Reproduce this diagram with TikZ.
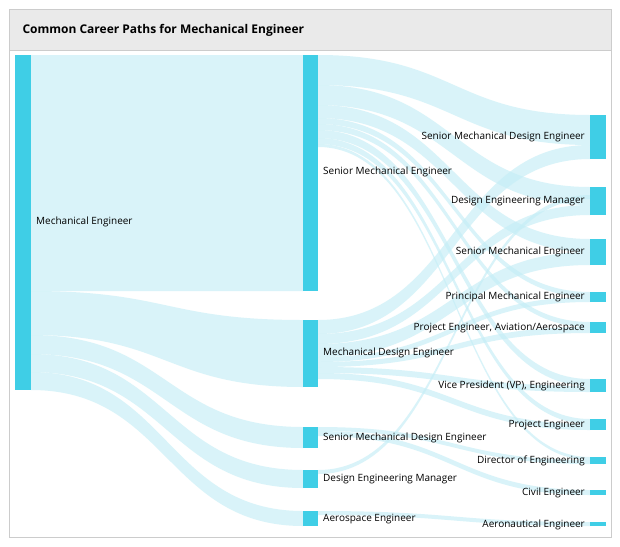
\documentclass[tikz,border=0pt]{standalone}
\usepackage{fontspec}
\setmainfont{Open Sans}
\definecolor{barc}{HTML}{3FCEE6}
\definecolor{flowc}{HTML}{C5EEF6}
\definecolor{titlebg}{HTML}{EAEAEA}
\tikzset{
  bar/.style={fill=barc, draw=none},
  flow/.style={fill=flowc, fill opacity=0.65},
  lbl/.style={font=\fontsize{10}{11}\selectfont, inner sep=0pt}
}
% band between two bars: x1, top1, bot1, x2, top2, bot2
\newcommand{\band}[6]{%
  \fill[flow] (#1,#2) .. controls ({(#1+#4)/2},#2) and ({(#1+#4)/2},#5) .. (#4,#5)
    -- (#4,#6) .. controls ({(#1+#4)/2},#6) and ({(#1+#4)/2},#3) .. (#1,#3) -- cycle;}
\begin{document}
\begin{tikzpicture}[x=1pt, y=-1pt]
\useasboundingbox (0,0) rectangle (620,546);
\fill[white] (0,0) rectangle (620,546);
\draw[black!20, fill=titlebg] (9,9) rectangle (611,50);
\draw[black!20] (9,50) rectangle (611,537);
\node[anchor=west, font=\bfseries\fontsize{12}{13}\selectfont] (title) at (19,30) {Common Career Paths for Mechanical Engineer};

% left to middle
\band{31}{55}{291}{303}{55}{291}
\band{31}{291}{335}{303}{320}{387}
\band{31}{335}{354}{303}{427}{448}
\band{31}{354}{372}{303}{470}{488}
\band{31}{372}{390}{303}{511}{526}
% senior mechanical engineer to right
\band{318}{55}{85}{590}{115}{145}
\band{318}{85}{105}{590}{187}{205}
\band{318}{105}{118}{590}{239}{252}
\band{318}{118}{124}{590}{292}{297}
\band{318}{124}{130}{590}{322}{327}
\band{318}{130}{138}{590}{379}{386}
\band{318}{138}{144}{590}{419}{424}
\band{318}{144}{147}{590}{457}{460}
% mechanical design engineer to right
\band{318}{320}{334}{590}{145}{159}
\band{318}{334}{344}{590}{205}{215}
\band{318}{344}{357}{590}{252}{265}
\band{318}{357}{362}{590}{297}{302}
\band{318}{362}{367}{590}{327}{333}
\band{318}{367}{373}{590}{386}{392}
\band{318}{373}{379}{590}{424}{430}
% smaller middle nodes
\band{318}{427}{431}{590}{460}{464}
\band{318}{431}{436}{590}{490}{495}
\band{318}{470}{474}{590}{195}{199}
\band{318}{511}{515}{590}{522}{526}

% bars
\fill[bar] (15,55) rectangle (31,390);
\fill[bar] (303,55) rectangle (318,291);
\fill[bar] (303,320) rectangle (318,387);
\fill[bar] (303,427) rectangle (318,448);
\fill[bar] (303,470) rectangle (318,488);
\fill[bar] (303,511) rectangle (318,526);
\foreach \t/\b in {115/159, 187/215, 239/265, 292/302, 322/333, 379/392, 419/430, 457/464, 490/495, 522/526}
  \fill[bar] (590,\t) rectangle (606,\b);

% labels
\node[lbl, anchor=west] (lme) at (36,222) {Mechanical Engineer};
\node[lbl, anchor=west] (lsme) at (323,172) {Senior Mechanical Engineer};
\node[lbl, anchor=west] (lmde) at (323,353) {Mechanical Design Engineer};
\node[lbl, anchor=west] (lsmde) at (323,438) {Senior Mechanical Design Engineer};
\node[lbl, anchor=west] (ldem) at (323,479) {Design Engineering Manager};
\node[lbl, anchor=west] (lae) at (323,519) {Aerospace Engineer};
\node[lbl, anchor=east] (r1) at (585,137) {Senior Mechanical Design Engineer};
\node[lbl, anchor=east] (r2) at (585,201) {Design Engineering Manager};
\node[lbl, anchor=east] (r3) at (585,252) {Senior Mechanical Engineer};
\node[lbl, anchor=east] (r4) at (585,297) {Principal Mechanical Engineer};
\node[lbl, anchor=east] (r5) at (585,328) {Project Engineer, Aviation/Aerospace};
\node[lbl, anchor=east] (r6) at (585,386) {Vice President (VP), Engineering};
\node[lbl, anchor=east] (r7) at (585,425) {Project Engineer};
\node[lbl, anchor=east] (r8) at (585,461) {Director of Engineering};
\node[lbl, anchor=east] (r9) at (585,493) {Civil Engineer};
\node[lbl, anchor=east] (r10) at (585,525) {Aeronautical Engineer};
\end{tikzpicture}
\end{document}
